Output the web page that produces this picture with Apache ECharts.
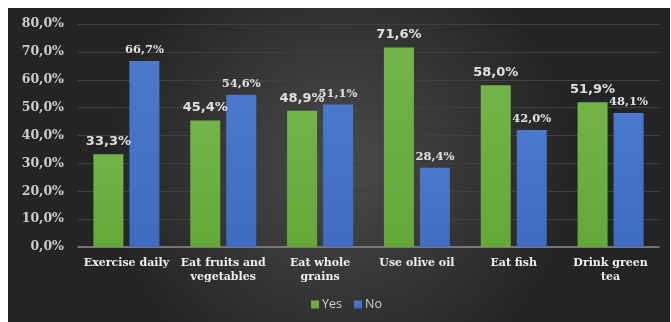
<!DOCTYPE html>
<html>
<head>
<meta charset="utf-8">
<script src="https://cdn.jsdelivr.net/npm/echarts@6/dist/echarts.min.js"></script>
<style>
    body { margin: 0; background: #fff; }
    #chart { width: 671px; height: 322px; }
</style>
</head>
<body>
<div id="chart"></div>
<script>
// categories and values
var categories = ['Exercise daily', 'Eat fruits and\nvegetables', 'Eat whole\ngrains', 'Use olive oil', 'Eat fish', 'Drink green\ntea'];
var yesValues = [33.3, 45.4, 48.9, 71.6, 58.0, 51.9];
var noValues = [66.7, 54.6, 51.1, 28.4, 42.0, 48.1];

function pct(v) {
    return v.toFixed(1).replace('.', ',') + '%';
}

var chart = echarts.init(document.getElementById('chart'));

var option = {
    backgroundColor: '#fff',
    animation: false,
    graphic: [{
        type: 'rect',
        z: -100,
        silent: true,
        shape: { x: 8, y: 8, width: 662, height: 314 },
        style: {
            fill: new echarts.graphic.RadialGradient(0.5, 0.5, 0.75, [
                { offset: 0, color: '#4a4a4a' },
                { offset: 1, color: '#242424' }
            ])
        }
    }],
    grid: { left: 78, right: 12, top: 24, bottom: 75 },
    legend: {
        data: ['Yes', 'No'],
        top: 293,
        left: 306,
        itemWidth: 8,
        itemHeight: 8,
        itemGap: 12,
        icon: 'rect',
        textStyle: { color: '#d0d0d0', fontFamily: 'Open Sans', fontSize: 12.5, padding: [0, 0, 0, -2] }
    },
    xAxis: {
        type: 'category',
        data: categories,
        axisLine: { lineStyle: { color: '#8a8a8a', width: 1.5 } },
        axisTick: { show: false },
        axisLabel: {
            color: '#f0f0f0',
            fontFamily: 'DejaVu Serif',
            fontWeight: 'bold',
            fontSize: 11,
            lineHeight: 14,
            interval: 0,
            margin: 9
        }
    },
    yAxis: {
        type: 'value',
        min: 0,
        max: 80,
        interval: 10,
        axisLine: { show: false },
        axisTick: { show: false },
        splitLine: { lineStyle: { color: '#404040', width: 1 } },
        axisLabel: {
            color: '#cccccc',
            fontFamily: 'DejaVu Serif',
            fontWeight: 'bold',
            fontSize: 12.5,
            margin: 14,
            formatter: function (v) { return pct(v); }
        }
    },
    series: [
        {
            name: 'Yes',
            type: 'bar',
            data: yesValues,
            barWidth: 30,
            barGap: '20%',
            itemStyle: {
                color: new echarts.graphic.LinearGradient(0, 0, 0, 1, [
                    { offset: 0, color: '#72b447' },
                    { offset: 1, color: '#64a83a' }
                ])
            },
            label: {
                show: true,
                position: 'top',
                distance: 6,
                color: '#e0e0e0',
                fontFamily: 'DejaVu Sans',
                fontWeight: 'bold',
                fontSize: 13,
                formatter: function (p) { return pct(p.value); }
            }
        },
        {
            name: 'No',
            type: 'bar',
            data: noValues,
            barWidth: 30,
            itemStyle: {
                color: new echarts.graphic.LinearGradient(0, 0, 0, 1, [
                    { offset: 0, color: '#4a78cc' },
                    { offset: 1, color: '#3f6cc0' }
                ])
            },
            label: {
                show: true,
                position: 'top',
                distance: 5,
                color: '#e0e0e0',
                fontFamily: 'DejaVu Serif',
                fontWeight: 'bold',
                fontSize: 11.5,
                formatter: function (p) { return pct(p.value); }
            }
        }
    ]
};

chart.setOption(option);
</script>
</body>
</html>
